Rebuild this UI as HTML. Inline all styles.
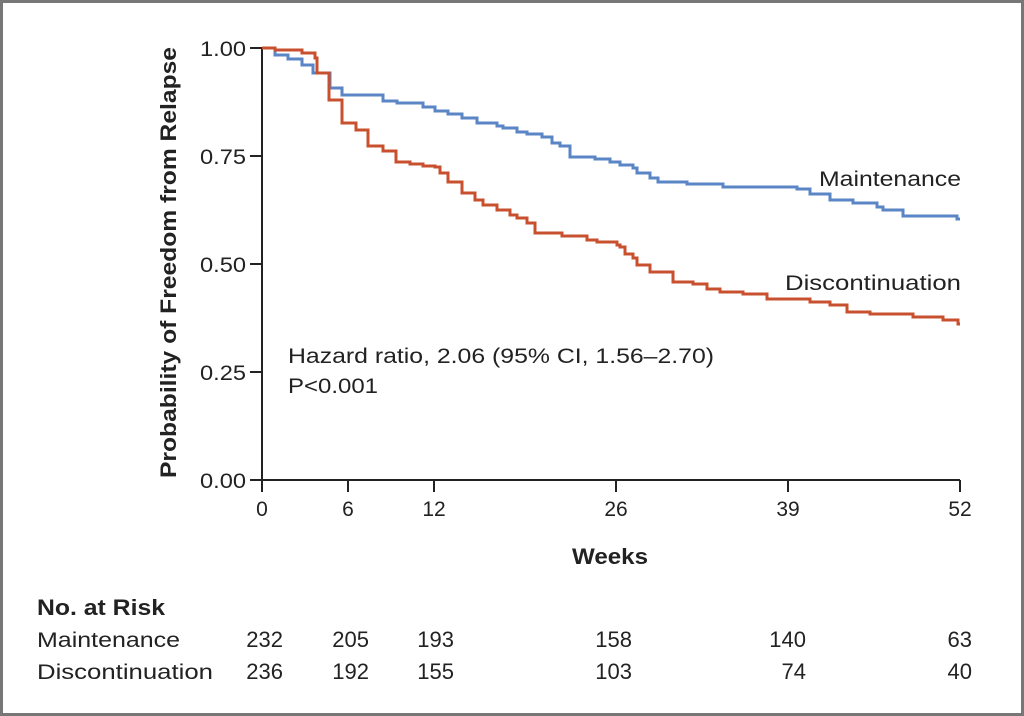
<!DOCTYPE html>
<html><head><meta charset="utf-8"><style>
html,body{margin:0;padding:0;background:#fff}
svg{display:block}
text{font-family:"Liberation Sans","DejaVu Sans",sans-serif;fill:#222}
</style></head><body>
<svg width="1024" height="716" viewBox="0 0 1024 716" xmlns="http://www.w3.org/2000/svg">
<rect x="1.5" y="1.5" width="1021" height="713" fill="#fff" stroke="#777" stroke-width="3"/>
<g stroke="#222" stroke-width="2" fill="none">
<path d="M262 48 V480 H960"/>
<path d="M250 48H262M250 156H262M250 264H262M250 372H262M250 480H262"/>
<path d="M262 480V492M348 480V492M434 480V492M616 480V492M788 480V492M960 480V492"/>
</g>
<g font-size="21" text-anchor="end">
<text x="246" y="56" textLength="46" lengthAdjust="spacingAndGlyphs">1.00</text><text x="246" y="164" textLength="46" lengthAdjust="spacingAndGlyphs">0.75</text><text x="246" y="272" textLength="46" lengthAdjust="spacingAndGlyphs">0.50</text><text x="246" y="380" textLength="46" lengthAdjust="spacingAndGlyphs">0.25</text><text x="246" y="488" textLength="46" lengthAdjust="spacingAndGlyphs">0.00</text>
</g>
<g font-size="21" text-anchor="middle">
<text x="262" y="516">0</text><text x="348" y="516">6</text><text x="434" y="516">12</text><text x="616" y="516">26</text><text x="788" y="516">39</text><text x="960" y="516">52</text>
</g>
<text x="572" y="564" font-size="22" font-weight="bold" textLength="76" lengthAdjust="spacingAndGlyphs">Weeks</text>
<text transform="translate(176,478) rotate(-90)" font-size="22" font-weight="bold" textLength="431" lengthAdjust="spacingAndGlyphs">Probability of Freedom from Relapse</text>
<text x="288" y="363" font-size="21" textLength="426" lengthAdjust="spacingAndGlyphs">Hazard ratio, 2.06 (95% CI, 1.56–2.70)</text>
<text x="288" y="393" font-size="21" textLength="90" lengthAdjust="spacingAndGlyphs">P&lt;0.001</text>
<text x="819" y="186" font-size="21" textLength="142" lengthAdjust="spacingAndGlyphs">Maintenance</text>
<text x="785" y="290" font-size="21" textLength="176" lengthAdjust="spacingAndGlyphs">Discontinuation</text>
<polyline fill="none" stroke="#5b86c5" stroke-width="3" points="262,48 275,48 275,55 288,55 288,59 302,59 302,65 313,65 313,73 330,73 330,88 342,88 342,95 383,95 383,101 397,101 397,103 423,103 423,107 435,107 435,111 448,111 448,114 462,114 462,118 477,118 477,123 497,123 497,126 503,126 503,128 517,128 517,132 527,132 527,134 542,134 542,137 552,137 552,143 560,143 560,146 570,146 570,157 595,157 595,159 610,159 610,162 620,162 620,165 633,165 633,168 637,168 637,173 650,173 650,178 658,178 658,182 687,182 687,184 723,184 723,187 797,187 797,189 810,189 810,194 830,194 830,200 853,200 853,203 877,203 877,207 883,207 883,210 903,210 903,216 957,216 957,219 960,219"/>
<polyline fill="none" stroke="#c9502f" stroke-width="3" points="262,48 275,48 275,50 302,50 302,53 315,53 315,58 317,58 317,73 329,73 329,100 342,100 342,123 356,123 356,130 368,130 368,146 383,146 383,151 396,151 396,162 410,162 410,164 423,164 423,166 435,166 435,167 440,167 440,173 448,173 448,182 462,182 462,193 475,193 475,200 483,200 483,205 497,205 497,210 510,210 510,215 517,215 517,218 527,218 527,223 535,223 535,233 562,233 562,236 587,236 587,240 597,240 597,242 617,242 617,245 620,245 620,247 625,247 625,254 633,254 633,258 637,258 637,265 650,265 650,272 673,272 673,282 693,282 693,284 707,284 707,289 720,289 720,292 743,292 743,294 767,294 767,299 810,299 810,302 830,302 830,305 847,305 847,312 870,312 870,314 913,314 913,317 943,317 943,320 958,320 958,324 960,324"/>
<text x="37" y="615" font-size="22" font-weight="bold" textLength="128" lengthAdjust="spacingAndGlyphs">No. at Risk</text>
<g font-size="21">
<text x="37" y="647" textLength="143" lengthAdjust="spacingAndGlyphs">Maintenance</text>
<text x="37" y="679" textLength="176" lengthAdjust="spacingAndGlyphs">Discontinuation</text>
</g>
<g font-size="22" text-anchor="end">
<text x="283" y="647">232</text><text x="369" y="647">205</text><text x="454" y="647">193</text><text x="632" y="647">158</text><text x="806" y="647">140</text><text x="972" y="647">63</text>
<text x="283" y="679">236</text><text x="369" y="679">192</text><text x="454" y="679">155</text><text x="632" y="679">103</text><text x="806" y="679">74</text><text x="972" y="679">40</text>
</g>
</svg>
</body></html>
